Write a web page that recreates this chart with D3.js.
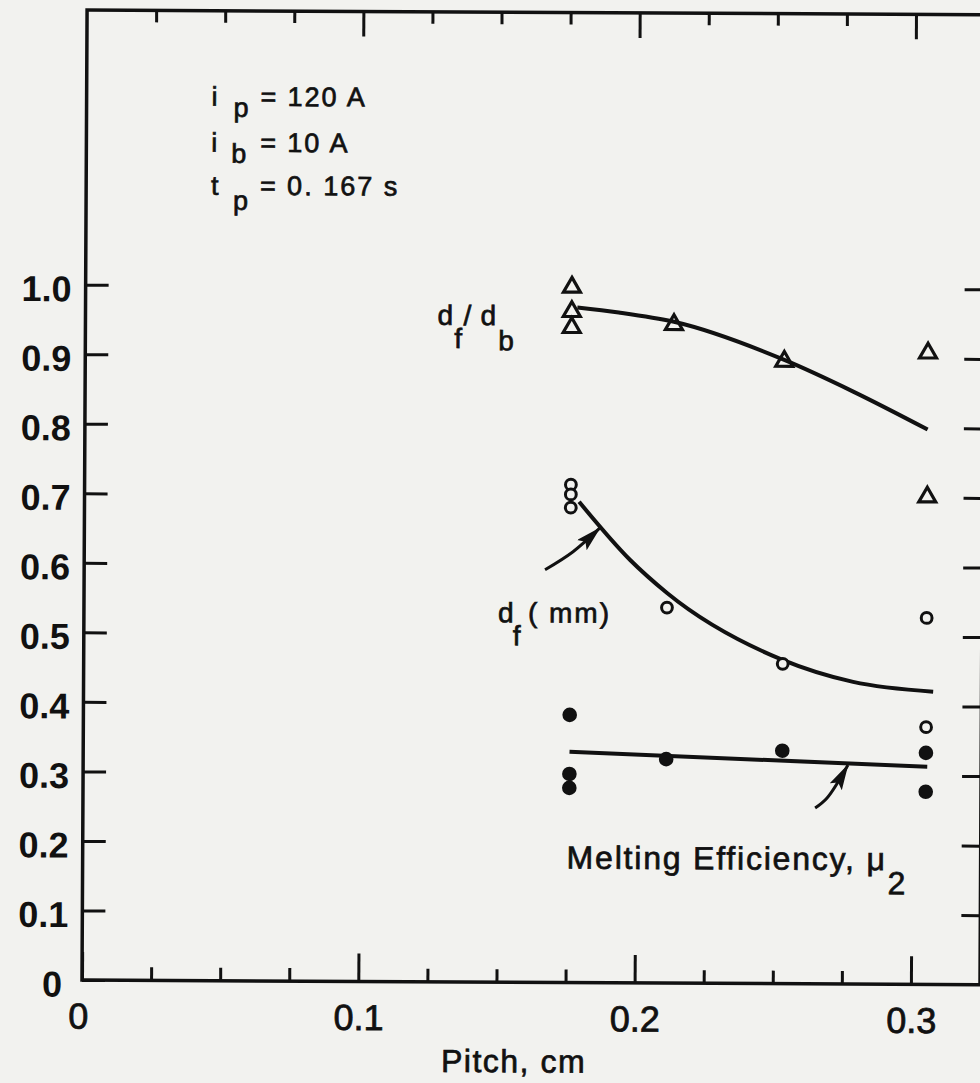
<!DOCTYPE html>
<html>
<head>
<meta charset="utf-8">
<script src="https://cdn.jsdelivr.net/npm/d3@7"></script>
<style>
  body { margin: 0; background: #f2f2ef; }
  svg { display: block; }
  text { font-family: "Liberation Sans", Arial, sans-serif; fill: #111; }
  .note { stroke: #111; stroke-width: 0.7; }
</style>
</head>
<body>
<div id="chart"></div>
<script>
// tick values and labels
var xMajor = [0, 0.1, 0.2, 0.3];
var xMajorLabels = ["0", "0.1", "0.2", "0.3"];
var xMinor = [0.025, 0.05, 0.075, 0.125, 0.15, 0.175, 0.225, 0.25, 0.275];
var yTicks = [0, 0.1, 0.2, 0.3, 0.4, 0.5, 0.6, 0.7, 0.8, 0.9, 1.0];
var yTickLabels = ["0", "0.1", "0.2", "0.3", "0.4", "0.5", "0.6", "0.7", "0.8", "0.9", "1.0"];

// d_f / d_b  (triangles)
var pitchTri = [0.176, 0.176, 0.176, 0.213, 0.253, 0.305, 0.305];
var ratioTri = [1.00, 0.965, 0.942, 0.947, 0.895, 0.908, 0.701];
// d_f, mm  (open circles)
var pitchOpen = [0.176, 0.176, 0.176, 0.211, 0.253, 0.305, 0.305];
var dfOpen = [0.716, 0.702, 0.683, 0.540, 0.460, 0.527, 0.370];
// melting efficiency  (filled dots)
var pitchFilled = [0.176, 0.176, 0.176, 0.211, 0.253, 0.305, 0.305];
var effFilled = [0.385, 0.300, 0.280, 0.322, 0.335, 0.333, 0.277];

// faired curves
var ratioCurveX = [0.178, 0.193, 0.213, 0.253, 0.278, 0.305];
var ratioCurveY = [0.971, 0.964, 0.951, 0.897, 0.852, 0.798];
var dfCurveX = [0.179, 0.1975, 0.211, 0.2527, 0.2785, 0.3075];
var dfCurveY = [0.6915, 0.6085, 0.561, 0.466, 0.4345, 0.421];
var effLineX = [0.176, 0.3055];
var effLineY = [0.332, 0.313];

// leader arrows
var arrowDfX = [0.1668, 0.1769, 0.1866];
var arrowDfY = [0.5934, 0.6196, 0.654];
var arrowEffX = [0.265, 0.2693, 0.2768];
var arrowEffY = [0.2529, 0.2674, 0.315];

var w = 980, h = 1083;
var x = d3.scaleLinear().domain([0, 0.325]).range([82, 980]);
var y = d3.scaleLinear().domain([0, 1.395]).range([980, 10]);

var svg = d3.select("#chart").append("svg").attr("width", w).attr("height", h);
svg.append("rect").attr("width", w).attr("height", h).attr("fill", "#f2f2ef");

svg.append("defs").append("marker")
    .attr("id", "head")
    .attr("markerUnits", "userSpaceOnUse")
    .attr("markerWidth", 28).attr("markerHeight", 16)
    .attr("refX", 25).attr("refY", 7)
    .attr("orient", "auto")
  .append("path")
    .attr("d", "M0,0 L26,7 L0,14 L5,7 Z")
    .attr("fill", "#111");

// the scan is a little tilted
var g = svg.append("g").attr("transform", "rotate(0.3, 82, 980)");

function styleAxis(sel) {
    sel.select(".domain").remove();
    sel.selectAll(".tick line").attr("stroke", "#111").attr("stroke-width", 3);
}

// bottom
g.append("g").attr("transform", "translate(0,980)")
    .call(d3.axisBottom(x).tickValues(xMinor).tickSize(-13).tickSizeOuter(0).tickFormat(""))
    .call(styleAxis);
g.append("g").attr("transform", "translate(0,980)")
    .call(d3.axisBottom(x).tickValues(xMajor).tickSize(-28).tickSizeOuter(0).tickPadding(23)
        .tickFormat((d, i) => xMajorLabels[i]))
    .call(styleAxis)
    .call(s => s.selectAll(".tick text").attr("font-size", 36).attr("fill", "#111")
        .attr("stroke", "#111").attr("stroke-width", 0.8)
        .attr("font-family", "'Liberation Sans', Arial, sans-serif"))
    .call(s => s.selectAll(".tick text").filter(d => d === 0).attr("dx", -4));

// top
g.append("g").attr("transform", "translate(0,10)")
    .call(d3.axisTop(x).tickValues(xMinor).tickSize(-12).tickSizeOuter(0).tickFormat(""))
    .call(styleAxis);
g.append("g").attr("transform", "translate(0,10)")
    .call(d3.axisTop(x).tickValues(xMajor.slice(1)).tickSize(-25).tickSizeOuter(0).tickFormat(""))
    .call(styleAxis);

// left
g.append("g").attr("transform", "translate(82,0)")
    .call(d3.axisLeft(y).tickValues(yTicks).tickSize(-23).tickSizeOuter(0).tickPadding(14)
        .tickFormat((d, i) => yTickLabels[i]))
    .call(styleAxis)
    .call(s => s.selectAll(".tick text").attr("font-size", 36).attr("font-weight", "bold")
        .attr("dy", "0.45em").attr("fill", "#111")
        .attr("font-family", "'Liberation Sans', Arial, sans-serif"))
    .call(s => s.selectAll(".tick text").filter(d => d === 0).attr("dx", -6));

// right
g.append("g").attr("transform", "translate(980,0)")
    .call(d3.axisRight(y).tickValues(yTicks.slice(1)).tickSize(-19).tickSizeOuter(0).tickFormat(""))
    .call(styleAxis);

// frame
g.append("rect")
    .attr("x", x(0)).attr("y", y(1.395))
    .attr("width", x(0.325) - x(0)).attr("height", y(0) - y(1.395))
    .attr("fill", "none").attr("stroke", "#111").attr("stroke-width", 3.5);

// curves
var line = d3.line().x(d => x(d[0])).y(d => y(d[1])).curve(d3.curveMonotoneX);
var curve = d3.line().x(d => x(d[0])).y(d => y(d[1])).curve(d3.curveCatmullRom);

g.append("path").datum(d3.zip(ratioCurveX, ratioCurveY)).attr("d", line)
    .attr("fill", "none").attr("stroke", "#111").attr("stroke-width", 4);
g.append("path").datum(d3.zip(dfCurveX, dfCurveY)).attr("d", line)
    .attr("fill", "none").attr("stroke", "#111").attr("stroke-width", 4);
g.append("path").datum(d3.zip(effLineX, effLineY)).attr("d", line)
    .attr("fill", "none").attr("stroke", "#111").attr("stroke-width", 4);

// arrows
[[arrowDfX, arrowDfY], [arrowEffX, arrowEffY]].forEach(a => {
    g.append("path").datum(d3.zip(a[0], a[1])).attr("d", curve)
        .attr("fill", "none").attr("stroke", "#111").attr("stroke-width", 3)
        .attr("marker-end", "url(#head)");
});

// markers
g.selectAll(".tri").data(d3.zip(pitchTri, ratioTri)).join("path")
    .attr("class", "tri")
    .attr("d", d3.symbol(d3.symbolTriangle, 125))
    .attr("transform", d => "translate(" + x(d[0]) + "," + y(d[1]) + ")")
    .attr("fill", "none").attr("stroke", "#111").attr("stroke-width", 3.2);

g.selectAll(".open").data(d3.zip(pitchOpen, dfOpen)).join("circle")
    .attr("class", "open")
    .attr("cx", d => x(d[0])).attr("cy", d => y(d[1])).attr("r", 5.4)
    .attr("fill", "#f2f2ef").attr("stroke", "#111").attr("stroke-width", 3);

g.selectAll(".filled").data(d3.zip(pitchFilled, effFilled)).join("circle")
    .attr("class", "filled")
    .attr("cx", d => x(d[0])).attr("cy", d => y(d[1])).attr("r", 7.3)
    .attr("fill", "#111");

// texts: [string, x, y]
function addText(parts, size, spacing) {
    var t = g.append("text").attr("class", "note").attr("font-size", size)
        .attr("letter-spacing", spacing || 0);
    parts.forEach(p => t.append("tspan").attr("x", p[1]).attr("y", p[2]).text(p[0]));
    return t;
}

addText([["i", 207, 105], ["p", 229, 116], ["=", 256, 105], ["120 A", 283, 105]], 27, 2);
addText([["i", 207, 151], ["b", 227, 162], ["=", 256, 151], ["10 A", 283, 151]], 27, 2);
addText([["t", 207, 194], ["p", 229, 209], ["=", 256, 194], ["0. 167 s", 283, 194]], 27, 2);

addText([["d", 434, 323], ["f", 451, 346], ["/", 460, 323], ["d", 477, 323], ["b", 495, 348]], 28);
addText([["d", 496, 620], ["f", 511, 643], ["( mm)", 526, 620]], 28, 2);
addText([["Melting Efficiency, \u03bc", 566, 866], ["2", 887, 890]], 32, 1.8);

g.append("text").attr("class", "note").attr("x", 514).attr("y", 1070).attr("text-anchor", "middle")
    .attr("letter-spacing", 1.5).attr("font-size", 32).text("Pitch, cm");
</script>
</body>
</html>
